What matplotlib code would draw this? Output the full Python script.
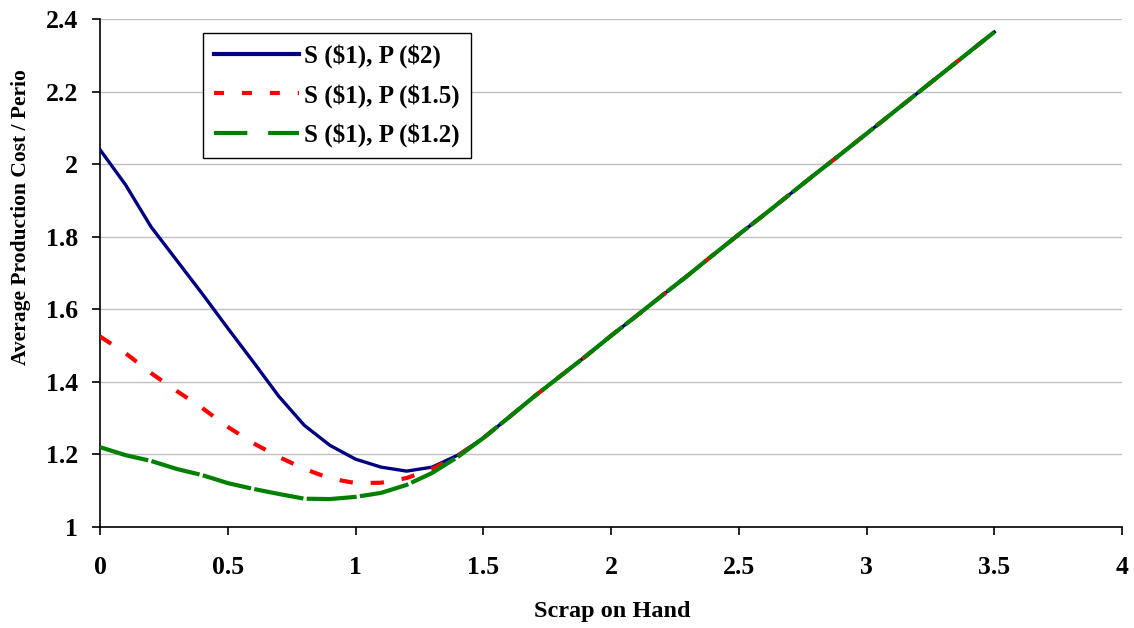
"""Average production cost per period vs scrap on hand, three price settings."""

import matplotlib

matplotlib.use("Agg")
import matplotlib.pyplot as plt  # noqa: E402
from matplotlib.lines import Line2D  # noqa: E402

plt.rcParams["font.family"] = ["Liberation Serif", "DejaVu Serif"]
plt.rcParams["font.weight"] = "bold"

# scrap on hand (x)
scrap = [0.0, 0.1, 0.2, 0.3, 0.4, 0.5, 0.6, 0.7, 0.8, 0.9, 1.0, 1.1, 1.2,
         1.3, 1.4, 1.5, 1.6, 1.7, 1.8, 1.9, 2.0, 2.1, 2.2, 2.3, 2.4, 2.5,
         2.6, 2.7, 2.8, 2.9, 3.0, 3.1, 3.2, 3.3, 3.4, 3.5]

# common rising tail from 1.5 onward (all three series overlap there)
tail = [1.245, 1.302, 1.360, 1.415, 1.470, 1.527, 1.582, 1.638, 1.693,
        1.750, 1.806, 1.861, 1.917, 1.973, 2.028, 2.084, 2.140, 2.196,
        2.252, 2.308, 2.364]

cost_p2 = [2.040, 1.943, 1.827, 1.735, 1.643, 1.548, 1.455, 1.360, 1.280,
           1.225, 1.187, 1.165, 1.154, 1.165, 1.198] + tail
cost_p15 = [1.525, 1.479, 1.424, 1.375, 1.328, 1.276, 1.231, 1.193, 1.160,
            1.134, 1.121, 1.122, 1.135, 1.160, 1.196] + tail
cost_p12 = [1.220, 1.198, 1.182, 1.160, 1.143, 1.121, 1.105, 1.091, 1.078,
            1.077, 1.083, 1.094, 1.116, 1.149, 1.193] + tail

labels = ["S (\\$1), P (\\$2)", "S (\\$1), P (\\$1.5)", "S (\\$1), P (\\$1.2)"]

BLUE, RED, GREEN = "#000080", "#ff0000", "#008000"

fig = plt.figure(figsize=(11.34, 6.28), dpi=100)
ax = fig.add_axes([100 / 1134, 101 / 628, 1022 / 1134, 508 / 628])

ax.plot(scrap, cost_p2, color=BLUE, lw=2.4, solid_joinstyle="miter", zorder=3)
ax.plot(scrap, cost_p15, color=RED, lw=3.0, dashes=(3.2, 4.3), zorder=4)
ax.plot(scrap, cost_p12, color=GREEN, lw=3.0, dashes=(12, 0.8), zorder=5)

ax.set_xlim(0, 4)
ax.set_ylim(1, 2.4)
ax.set_xticks([0, 0.5, 1, 1.5, 2, 2.5, 3, 3.5, 4])
ax.set_xticklabels(["0", "0.5", "1", "1.5", "2", "2.5", "3", "3.5", "4"])
ax.set_yticks([1, 1.2, 1.4, 1.6, 1.8, 2, 2.2, 2.4])
ax.set_yticklabels(["1", "1.2", "1.4", "1.6", "1.8", "2", "2.2", "2.4"])
ax.yaxis.grid(True, color="#c0c0c0", lw=1.0)
ax.set_axisbelow(True)
for side in ("top", "right"):
    ax.spines[side].set_visible(False)
for side in ("left", "bottom"):
    ax.spines[side].set_linewidth(1.2)
ax.tick_params(axis="both", direction="out", length=6, width=1.2,
               labelsize=18.5)
ax.tick_params(axis="x", pad=15)
ax.tick_params(axis="y", pad=10)
for t in ax.get_xticklabels() + ax.get_yticklabels():
    t.set_fontweight("bold")

fig.text(612 / 1134, 1 - 612 / 628, "Scrap on Hand", ha="center",
         va="center", fontsize=17.5, fontweight="bold")
fig.text(21 / 1134, 1 - 217 / 628, "Average Production Cost / Perio",
         rotation=90, ha="center", va="center", fontsize=15.5,
         fontweight="bold")

# legend swatches as they appear in the reference legend
handles = [
    Line2D([], [], color=BLUE, lw=3.0),
    Line2D([], [], color=RED, lw=3.0, dashes=(2.4, 4.3)),
    Line2D([], [], color=GREEN, lw=3.0, dashes=(8, 5)),
]
leg = ax.legend(handles, labels, loc="upper left",
                bbox_to_anchor=(103 / 1022, 494 / 508),
                prop={"size": 18, "weight": "bold"},
                handlelength=3.4, handletextpad=0.2, labelspacing=0.62,
                borderpad=0.45, fancybox=False, framealpha=1,
                edgecolor="black", borderaxespad=0)
leg.get_frame().set_linewidth(1.0)

fig.savefig("out.png", dpi=100)
